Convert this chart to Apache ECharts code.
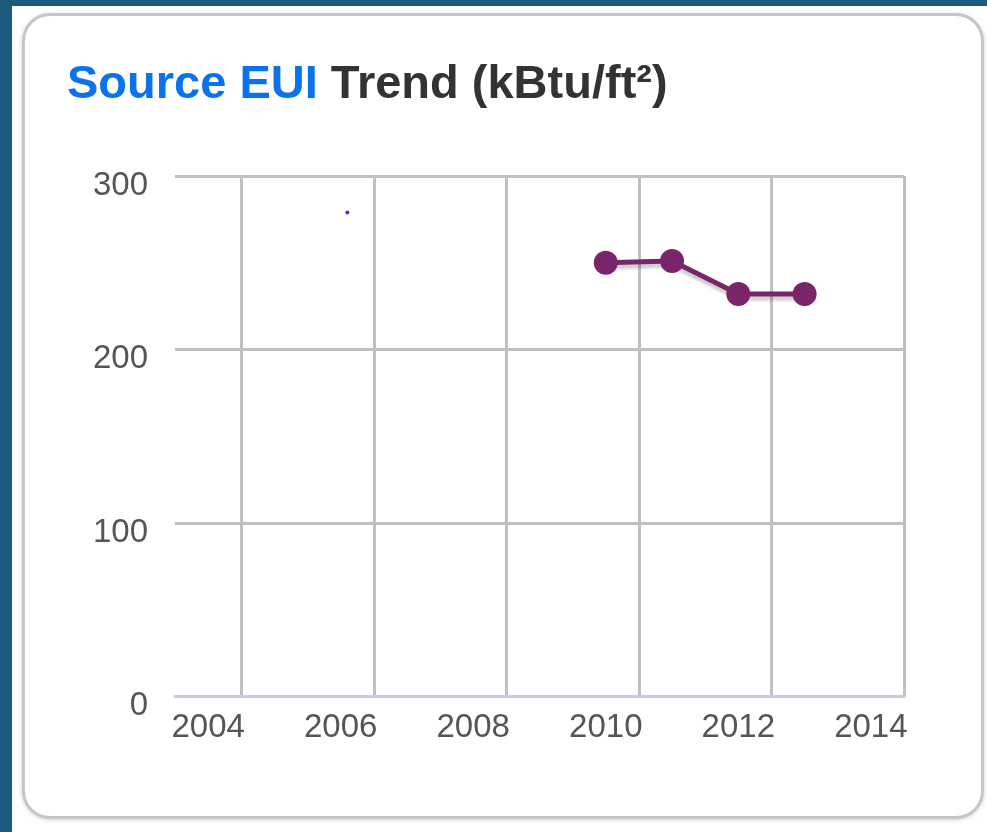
<!DOCTYPE html>
<html>
<head>
<meta charset="utf-8">
<script src="https://cdn.jsdelivr.net/npm/echarts@6.0.0/dist/echarts.min.js"></script>
<style>
  html, body { margin: 0; padding: 0; background: #fff; }
  .page { position: relative; width: 987px; height: 832px; overflow: hidden; background: #fff; }
  .band-top { position: absolute; left: 0; top: 0; width: 987px; height: 6px; background: #1d5a7e; }
  .band-left { position: absolute; left: 0; top: 0; width: 12px; height: 832px; background: #1d5a7e; }
  .card {
    position: absolute; left: 22px; top: 13px; width: 956px; height: 800px;
    border: 3px solid #c6c6c6; border-radius: 28px; background: #fff;
    box-shadow: 0 1px 4px rgba(0, 0, 0, 0.18);
  }
  #chart { position: absolute; left: 0; top: 0; width: 987px; height: 832px; }
</style>
</head>
<body>
<div class="page">
  <div class="band-top"></div>
  <div class="band-left"></div>
  <div class="card"></div>
  <div id="chart"></div>
</div>
<script>
// 数据
const years = [2010, 2011, 2012, 2013];
const sourceEui = [250, 251, 232, 232];
const refPoint = [2006.1, 279]; // 小蓝点
const yearLabels = [2004, 2006, 2008, 2010, 2012, 2014];
const gridYears = [2004.5, 2006.5, 2008.5, 2010.5, 2012.5, 2014.5];
const yTicks = [0, 100, 200, 300];

const myChart = echarts.init(document.getElementById("chart"), null, { renderer: "canvas" });

const option = {
  animation: false,
  title: {
    text: "{a|Source EUI}{b| Trend (kBtu/ft²)}",
    left: 62,
    top: 57,
    textStyle: {
      rich: {
        a: { color: "#0a72ec", fontSize: 47, fontWeight: "bold", fontFamily: "Liberation Sans, Arial" },
        b: { color: "#333333", fontSize: 47, fontWeight: "bold", fontFamily: "Liberation Sans, Arial" }
      }
    }
  },
  grid: { left: 175, top: 176, width: 729, height: 520.5 },
  xAxis: {
    type: "value",
    min: 2003.5,
    max: 2014.5,
    axisLine: { show: true, lineStyle: { color: "#c3cfe0", width: 3 } },
    axisTick: { show: false, customValues: gridYears },
    splitLine: { show: true, lineStyle: { color: "#c0c0c0", width: 3 } },
    axisLabel: {
      customValues: yearLabels,
      color: "#555",
      fontSize: 33,
      fontFamily: "Liberation Sans, Arial",
      margin: 15,
      formatter: (v) => String(v)
    }
  },
  yAxis: {
    type: "value",
    min: yTicks[0],
    max: yTicks[yTicks.length - 1],
    interval: 100,
    axisLine: { show: false },
    axisTick: { show: false },
    splitLine: { show: true, lineStyle: { color: "#c0c0c0", width: 3 } },
    axisLabel: {
      color: "#555",
      fontSize: 33,
      fontFamily: "Liberation Sans, Arial",
      margin: 27,
      verticalAlign: "top",
      lineHeight: 19
    }
  },
  series: [
    {
      name: "Source EUI",
      type: "line",
      data: years.map((y, i) => [y, sourceEui[i]]),
      symbol: "circle",
      symbolSize: 24,
      color: "#7a2469",
      lineStyle: {
        width: 5,
        color: "#7a2469",
        shadowColor: "rgba(0,0,0,0.2)",
        shadowOffsetY: 4,
        shadowBlur: 3
      },
      itemStyle: { color: "#7a2469" },
      z: 3
    },
    {
      name: "ref",
      type: "scatter",
      data: [refPoint],
      symbol: "circle",
      symbolSize: 4,
      itemStyle: { color: "#0000ff" },
      z: 3
    }
  ]
};
myChart.setOption(option);
</script>
</body>
</html>
